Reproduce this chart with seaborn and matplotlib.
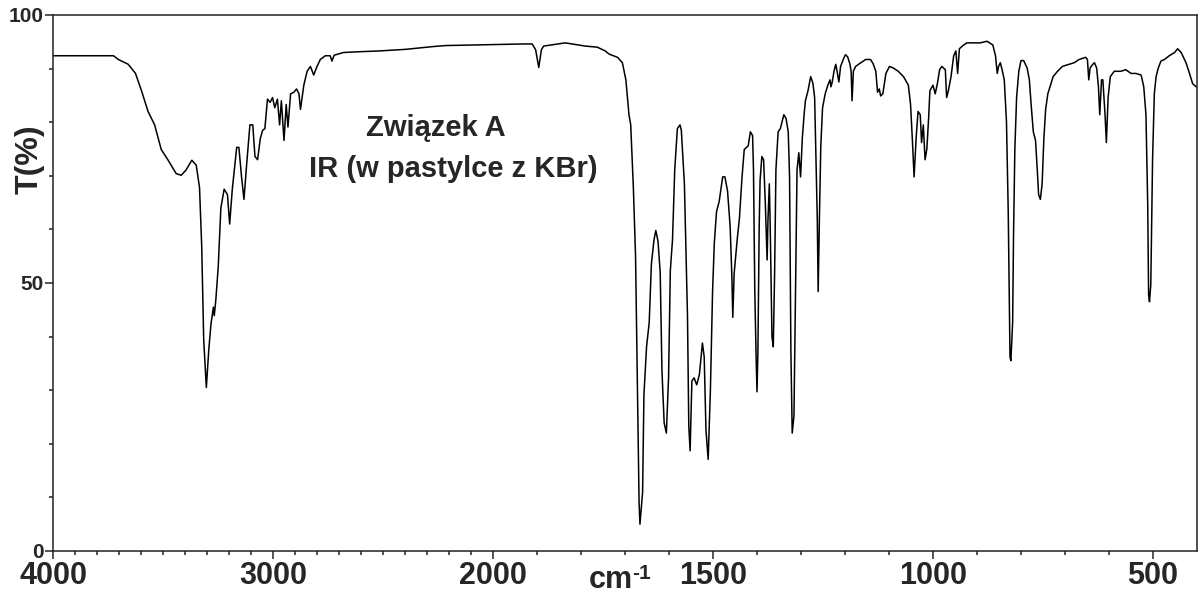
import numpy as np
import pandas as pd
import seaborn as sns
import matplotlib
matplotlib.use("Agg")
import matplotlib.pyplot as plt
from matplotlib.ticker import FixedLocator, NullFormatter

# IR spectrum (wavenumber in cm-1, transmittance in %)
wavenumber = [
    4000, 3725, 3703, 3658, 3625, 3598, 3568, 3538, 3508, 3478, 3440, 3417,
    3395, 3369, 3349, 3334, 3324, 3315, 3303, 3292, 3282, 3271, 3267, 3260,
    3249, 3237, 3222, 3207, 3197, 3185, 3165, 3155, 3143, 3132, 3120, 3105,
    3092, 3082, 3070, 3058, 3047, 3037, 3025, 3013, 3002, 2992, 2980, 2970,
    2962, 2950, 2940, 2932, 2920, 2905, 2893, 2882, 2875, 2860, 2845, 2830,
    2815, 2800, 2785, 2762, 2740, 2732, 2722, 2680, 2635, 2515, 2395, 2275,
    2215, 2100, 2000, 1930, 1911, 1903, 1896, 1890, 1885, 1836, 1790, 1763,
    1745, 1736, 1717, 1706, 1698, 1691, 1687, 1681, 1676, 1672, 1668, 1666,
    1660, 1657, 1651, 1645, 1640, 1634, 1630, 1625, 1620, 1616, 1611, 1606,
    1601, 1597, 1592, 1587, 1581, 1575, 1572, 1565, 1562, 1558, 1555, 1552,
    1548, 1543, 1537, 1531, 1524, 1520, 1516, 1511, 1506, 1501, 1497, 1492,
    1486, 1478, 1473, 1467, 1461, 1457, 1455, 1452, 1445, 1440, 1434, 1429,
    1420, 1415, 1410, 1408, 1405, 1402, 1400, 1398, 1395, 1393, 1389, 1385,
    1381, 1377, 1375, 1372, 1370, 1366, 1363, 1360, 1357, 1352, 1347, 1339,
    1334, 1329, 1326, 1323, 1320, 1316, 1312, 1309, 1305, 1301, 1297, 1293,
    1290, 1284, 1278, 1273, 1269, 1266, 1263, 1261, 1258, 1255, 1251, 1245,
    1239, 1234, 1232, 1229, 1225, 1221, 1218, 1214, 1210, 1204, 1199, 1194,
    1189, 1186, 1184, 1181, 1176, 1164, 1153, 1142, 1136, 1130, 1126, 1122,
    1119, 1114, 1107, 1099, 1090, 1079, 1067, 1056, 1051, 1047, 1043, 1038,
    1034, 1029, 1026, 1022, 1018, 1014, 1010, 1007, 1000, 995, 990, 985,
    980, 972, 969, 965, 959, 953, 948, 944, 940, 932, 923, 908,
    893, 877, 864, 858, 854, 851, 847, 843, 838, 833, 829, 825,
    823, 819, 817, 814, 810, 805, 800, 794, 786, 781, 777, 772,
    767, 763, 760, 756, 752, 748, 744, 739, 733, 727, 717, 706,
    695, 679, 668, 653, 649, 646, 643, 638, 633, 628, 624, 621,
    617, 614, 609, 606, 602, 597, 588, 573, 562, 550, 539, 527,
    521, 516, 512, 510, 508, 505, 501, 497, 493, 488, 482, 474,
    463, 451, 444, 436, 425, 417, 410, 402,
]
transmittance = [
    92.4, 92.4, 91.7, 90.8, 89.1, 85.9, 82.0, 79.5, 74.9, 73.0, 70.4, 70.1,
    71.1, 72.9, 72.0, 67.8, 56.8, 39.4, 30.5, 37.5, 42.3, 45.5, 43.9, 46.8,
    53.0, 64.0, 67.5, 66.5, 61.0, 67.5, 75.3, 75.3, 69.8, 65.6, 72.0, 79.5,
    79.5, 73.6, 73.0, 76.9, 78.5, 78.8, 84.3, 83.7, 84.6, 82.7, 84.3, 79.5,
    84.0, 76.6, 83.3, 79.1, 85.3, 85.6, 86.2, 85.3, 82.4, 86.9, 89.5, 90.4,
    88.8, 90.4, 91.7, 92.4, 92.4, 91.4, 92.5, 93.0, 93.1, 93.3, 93.6, 94.1,
    94.3, 94.4, 94.5, 94.6, 94.6, 93.5, 90.2, 93.5, 94.2, 94.8, 94.2, 94.0,
    93.3, 92.7, 92.1, 91.1, 87.9, 81.4, 79.5, 67.8, 54.9, 31.3, 9.0, 5.0,
    11.0, 29.1, 38.1, 42.6, 53.6, 58.1, 59.8, 57.8, 52.0, 33.6, 23.9, 22.0,
    32.3, 52.3, 58.1, 71.1, 78.8, 79.5, 78.5, 68.5, 58.1, 43.9, 23.3, 18.7,
    31.7, 32.3, 31.0, 32.9, 38.8, 36.2, 22.6, 17.1, 29.7, 48.4, 57.5, 63.3,
    65.2, 69.8, 69.8, 67.2, 60.5, 50.9, 43.6, 51.7, 58.1, 62.0, 69.8, 74.9,
    75.6, 78.2, 77.5, 71.1, 48.4, 36.2, 29.7, 36.8, 60.7, 69.1, 73.6, 73.0,
    64.6, 54.3, 62.0, 68.5, 60.7, 40.0, 38.1, 51.7, 71.1, 78.2, 78.8, 81.4,
    80.7, 78.2, 69.8, 37.5, 22.0, 25.2, 51.7, 71.1, 74.3, 69.8, 77.0, 81.4,
    84.0, 85.9, 88.5, 87.3, 84.6, 73.6, 62.0, 48.4, 62.7, 75.6, 82.7, 85.3,
    86.9, 87.9, 86.6, 87.5, 89.5, 90.8, 89.5, 87.5, 90.4, 91.7, 92.6, 92.2,
    90.9, 89.5, 84.0, 89.5, 90.4, 91.1, 91.7, 91.7, 90.9, 89.5, 85.6, 86.2,
    84.9, 85.3, 89.1, 90.4, 90.1, 89.5, 88.5, 86.9, 83.3, 76.9, 69.8, 77.5,
    82.0, 81.4, 76.2, 79.5, 73.0, 75.0, 80.7, 85.9, 86.9, 85.3, 87.2, 89.8,
    90.4, 89.8, 84.6, 85.9, 88.5, 92.4, 93.3, 89.1, 93.7, 94.3, 94.8, 94.8,
    94.8, 95.1, 94.4, 92.4, 89.1, 90.4, 91.1, 89.8, 87.9, 80.1, 63.3, 36.2,
    35.5, 42.6, 58.8, 74.9, 84.6, 89.5, 91.5, 91.5, 90.1, 87.9, 83.3, 78.2,
    76.6, 71.1, 66.5, 65.6, 68.5, 77.0, 82.4, 85.3, 86.9, 88.5, 89.5, 90.4,
    90.7, 91.1, 91.7, 92.1, 91.7, 87.9, 90.1, 90.7, 91.1, 90.1, 86.6, 81.4,
    87.9, 87.9, 81.4, 76.2, 84.6, 88.5, 89.5, 89.5, 89.8, 89.1, 89.1, 88.8,
    86.6, 81.4, 64.6, 47.8, 46.5, 49.7, 73.0, 85.3, 88.5, 90.1, 91.4, 91.7,
    92.4, 93.0, 93.7, 93.0, 91.1, 89.1, 87.2, 86.6,
]

major_ticks = [4000, 3000, 2000, 1500, 1000, 500]
minor_ticks = list(range(3900, 400, -100))
y_major = [0, 50, 100]
y_minor = list(range(10, 100, 10))

df = pd.DataFrame({"wn": wavenumber, "T": transmittance})


# axis is linear above 2000 cm-1 and twice as stretched below it
def fwd(w):
    w = np.asarray(w, dtype=float)
    return np.where(w >= 2000, w, 2 * w - 2000)


def inv(u):
    u = np.asarray(u, dtype=float)
    return np.where(u >= 2000, u, (u + 2000) / 2)


sns.set_style("ticks")
plt.rcParams["font.family"] = ["Liberation Sans", "DejaVu Sans"]
plt.rcParams["font.weight"] = "bold"

fig = plt.figure(figsize=(12, 5.94), dpi=100)
ax = fig.add_axes([53 / 1200, 43 / 594, 1144 / 1200, 536 / 594])
ax.set_xscale("function", functions=(fwd, inv))

sns.lineplot(data=df, x="wn", y="T", ax=ax, color="black", linewidth=1.1,
             estimator=None, sort=False)

ax.set_xlim(4000, 400)
ax.set_ylim(0, 100)
ax.xaxis.set_major_locator(FixedLocator(major_ticks))
ax.xaxis.set_minor_locator(FixedLocator(minor_ticks))
ax.xaxis.set_minor_formatter(NullFormatter())
ax.set_xticklabels([str(t) for t in major_ticks], fontsize=22, fontweight="bold")
ax.yaxis.set_major_locator(FixedLocator(y_major))
ax.yaxis.set_minor_locator(FixedLocator(y_minor))
ax.set_yticklabels([str(t) for t in y_major], fontsize=15, fontweight="bold")

ax.tick_params(axis="both", which="major", direction="out", length=6, width=1.1)
ax.tick_params(axis="x", which="major", pad=1)
ax.tick_params(axis="y", which="major", pad=1)
ax.tick_params(axis="both", which="minor", direction="out", length=2.7, width=1.1)
for s in ax.spines.values():
    s.set_visible(True)
    s.set_linewidth(1.1)
    s.set_color("#222222")

ax.set_xlabel("")
ax.set_ylabel("")
fig.text(30 / 1200, 1 - 159 / 594, "T(%)", rotation=90, ha="center", va="center",
         fontsize=23, fontweight="bold")

# cm-1 unit under the axis
fig.text(633 / 1200, 1 - 588 / 594, "cm", ha="right", va="baseline", fontsize=22, fontweight="bold")
fig.text(632 / 1200, 1 - 579 / 594, "-1", ha="left", va="baseline", fontsize=15, fontweight="bold")

ax.text(2260, 79, "Związek A", ha="center", va="center", fontsize=21, fontweight="bold")
ax.text(2180, 71.2, "IR (w pastylce z KBr)", ha="center", va="center", fontsize=21, fontweight="bold")

fig.savefig("out.png", dpi=100)
